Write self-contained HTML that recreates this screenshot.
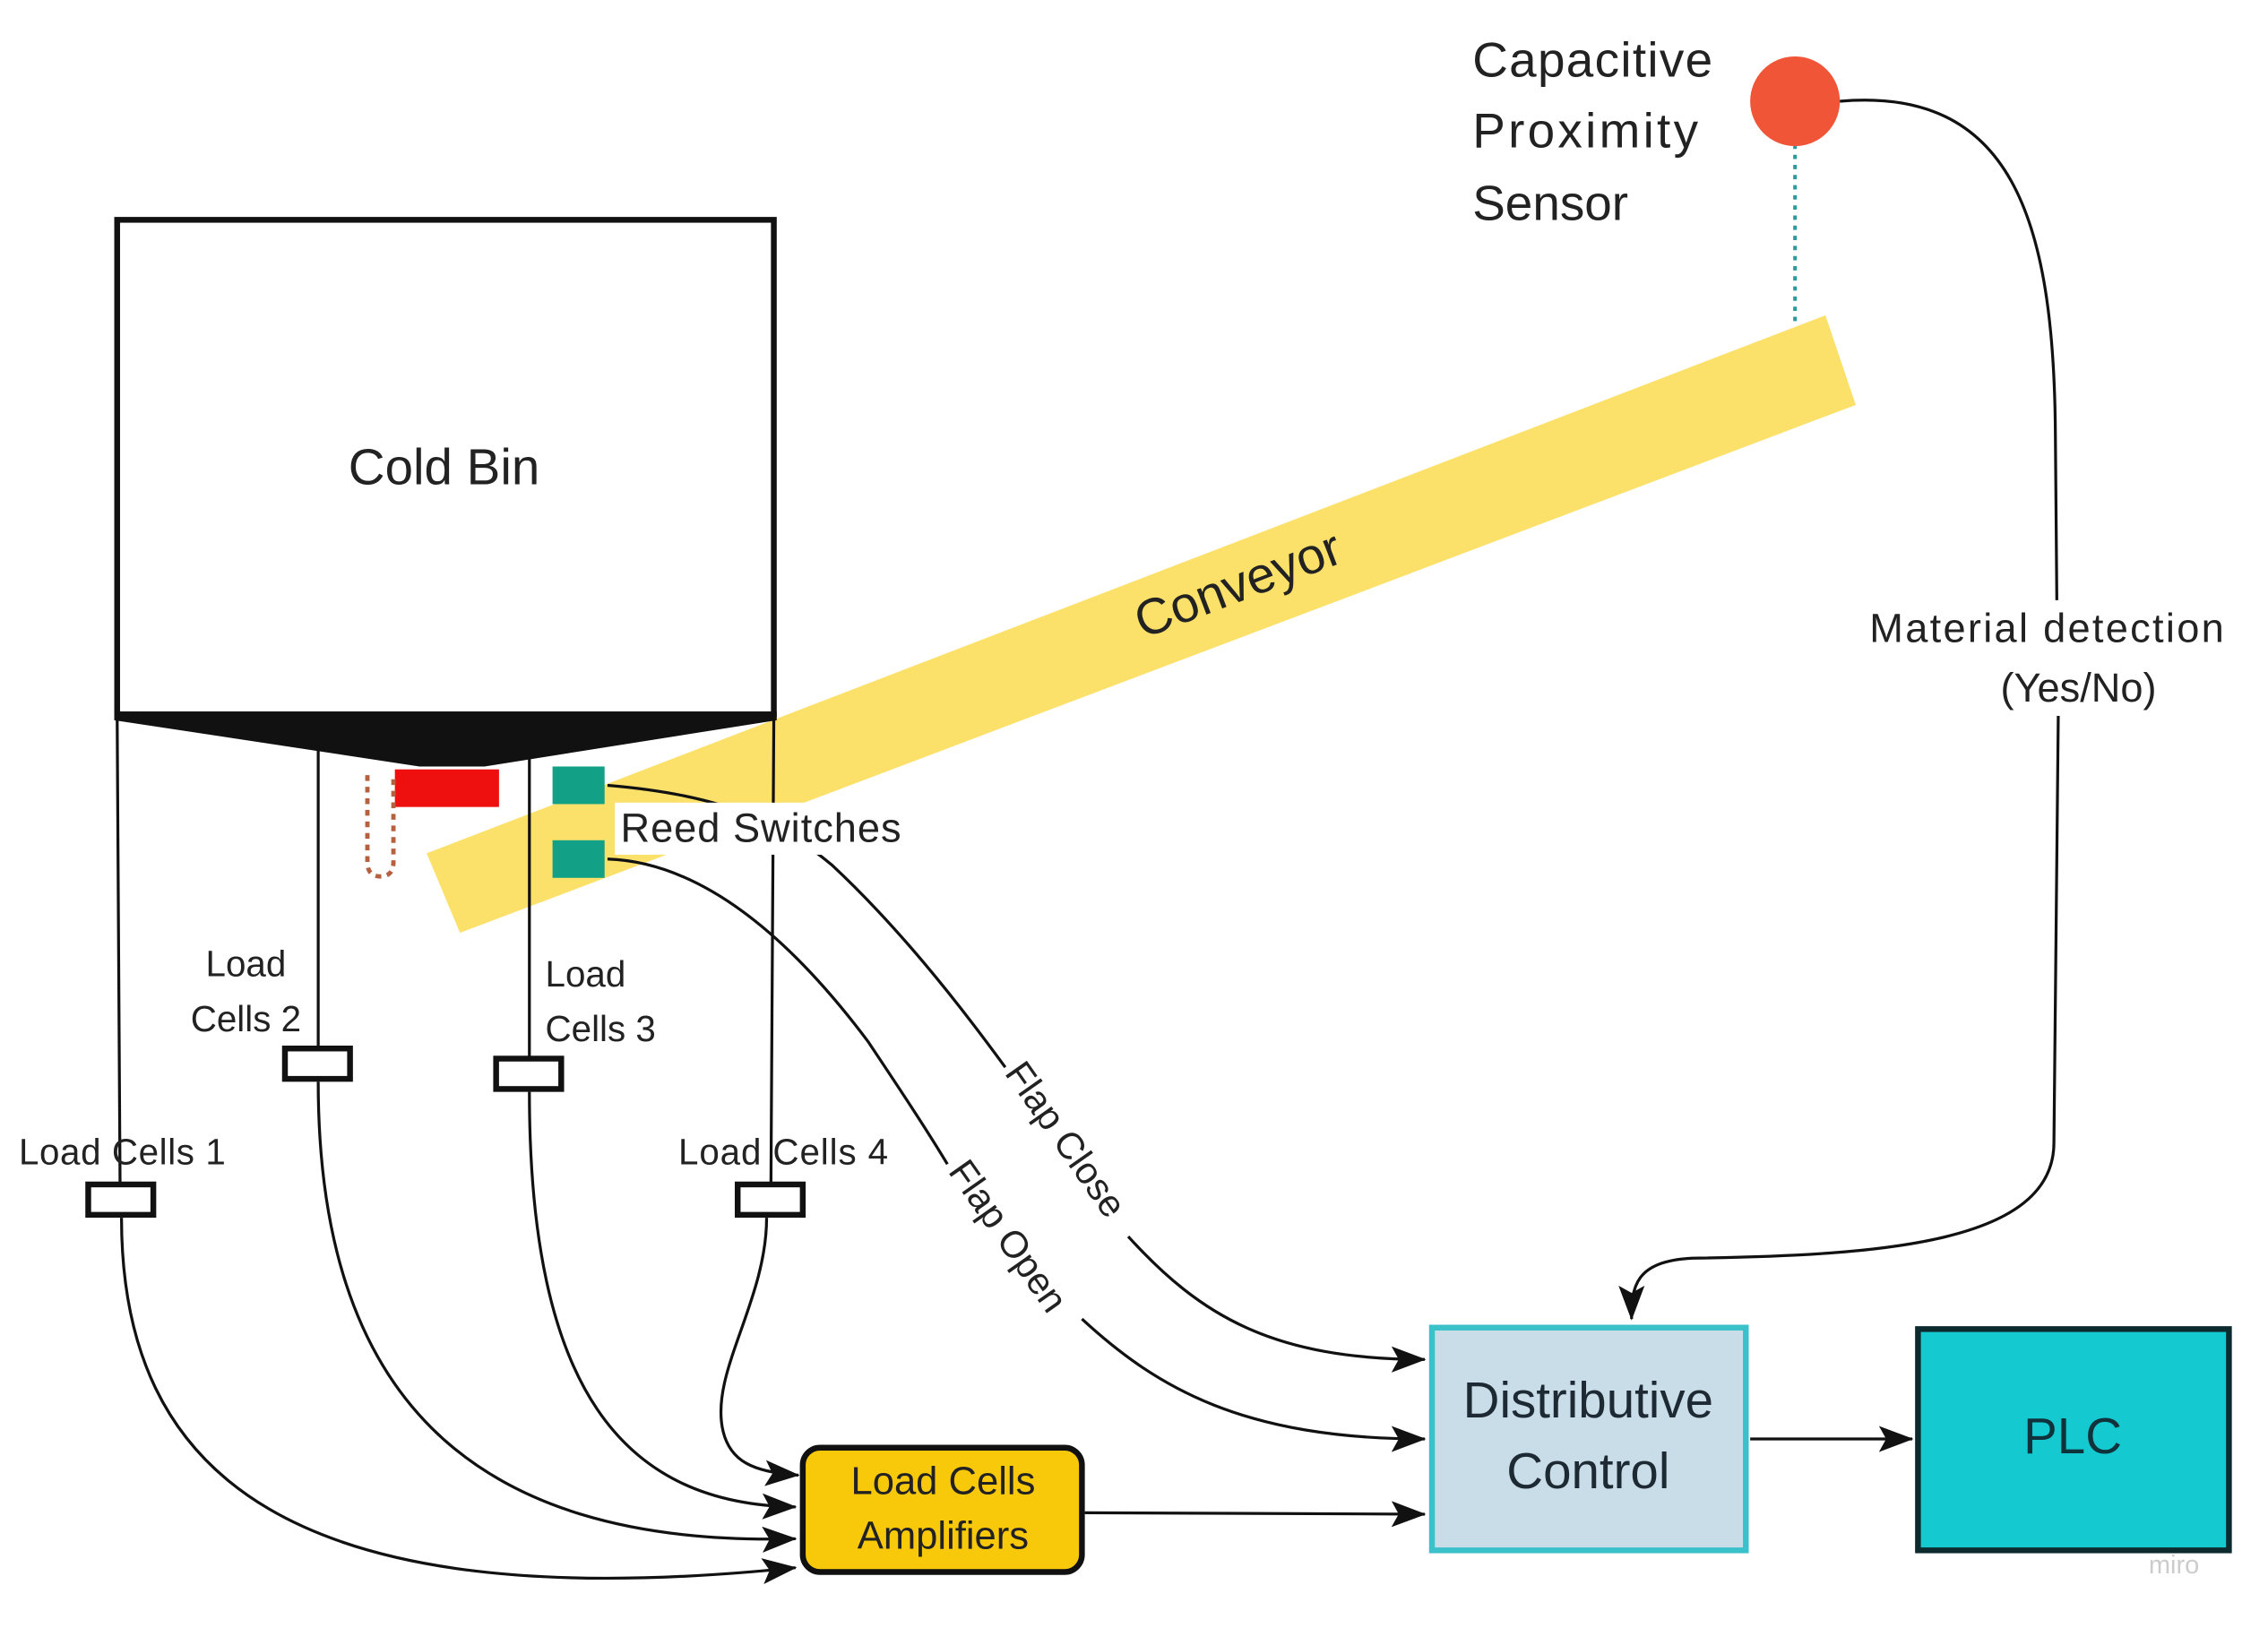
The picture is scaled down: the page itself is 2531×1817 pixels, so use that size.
<!DOCTYPE html>
<html><head><meta charset="utf-8"><style>
html,body{margin:0;padding:0;background:#fff;}
svg{display:block;}
text{font-family:"Liberation Sans",sans-serif;}
</style></head><body>
<svg width="2531" height="1817" viewBox="0 0 1568 1125.7" preserveAspectRatio="none" xmlns="http://www.w3.org/2000/svg">
<defs>
<marker id="ahb" markerWidth="24" markerHeight="18" refX="23" refY="9" orient="auto" markerUnits="userSpaceOnUse"><path d="M0,0 L24,9 L0,18 L5,9 Z" fill="#111"/></marker>
</defs>
<rect width="1568" height="1126" fill="#fff"/>
<polygon points="295,590 1262,218 1283,280 318,645" fill="#fbe06a"/>
<text x="0" y="0" font-size="35" fill="#222" text-anchor="middle" transform="translate(860,415) rotate(-21)">Conveyor</text>
<g stroke="#111" stroke-width="2" fill="none">
<line x1="81" y1="495" x2="83" y2="818"/>
<line x1="220" y1="515" x2="220" y2="724"/>
<line x1="366" y1="520" x2="366" y2="731"/>
<line x1="535" y1="495" x2="533" y2="818"/>
</g>
<rect x="81" y="152" width="454" height="342" fill="#fff" stroke="#111" stroke-width="4"/>
<text x="307" y="335" font-size="35" fill="#222" text-anchor="middle">Cold Bin</text>
<polygon points="79,492 537,492 537,498 335,530 290,530 79,498" fill="#111"/>
<rect x="273" y="532" width="72" height="26" fill="#ee0f0f"/>
<path d="M254,536 L254,596 Q254,606 263,606 Q272,606 272,596 L272,536" fill="none" stroke="#b5603e" stroke-width="3" stroke-dasharray="4,4"/>
<rect x="382" y="530" width="36" height="26" fill="#12a086"/>
<rect x="382" y="581" width="36" height="26" fill="#12a086"/>
<g stroke="#111" stroke-width="2" fill="none">
<path d="M420,543 C480,548 530,560 575,598 C620,640 660,690 695,738"/>
<path d="M780,855 C830,910 880,940 985,940" marker-end="url(#ahb)"/>
<path d="M420,594 C480,596 540,640 600,720 C620,750 640,780 655,805"/>
<path d="M748,912 C800,960 860,995 985,995" marker-end="url(#ahb)"/>
</g>
<rect x="425" y="555" width="205" height="36" fill="#fff"/>
<text x="429" y="582" font-size="28" fill="#222" textLength="194">Reed Switches</text>
<text font-size="26" fill="#222" transform="translate(694,742) rotate(55)">Flap Close</text>
<text font-size="26" fill="#222" transform="translate(655,810) rotate(55)">Flap Open</text>
<g fill="#fff" stroke="#111" stroke-width="4">
<rect x="61" y="819" width="45" height="21"/>
<rect x="197" y="725" width="45" height="21"/>
<rect x="343" y="732" width="45" height="21"/>
<rect x="510" y="819" width="45" height="21"/>
</g>
<g font-size="25" fill="#222">
<text x="13" y="805" textLength="143">Load Cells 1</text>
<text x="170" y="675" text-anchor="middle">Load</text>
<text x="170" y="713" text-anchor="middle">Cells 2</text>
<text x="377" y="682">Load</text>
<text x="377" y="720">Cells 3</text>
<text x="469" y="805" textLength="145">Load Cells 4</text>
</g>
<g stroke="#111" stroke-width="2" fill="none">
<path d="M84,842 C84,1020 200,1120 550,1084" marker-end="url(#ahb)"/>
<path d="M220,748 C220,960 320,1070 550,1064" marker-end="url(#ahb)"/>
<path d="M366,755 C366,960 430,1040 550,1042" marker-end="url(#ahb)"/>
<path d="M530,842 C530,900 490,950 500,990 C505,1010 520,1018 552,1020" marker-end="url(#ahb)"/>
<path d="M750,1046 L985,1047" marker-end="url(#ahb)"/>
<path d="M1210,995 L1322,995" marker-end="url(#ahb)"/>
</g>
<rect x="555" y="1001" width="193" height="86" rx="12" fill="#f8c80b" stroke="#111" stroke-width="4"/>
<text x="652" y="1033" font-size="27" fill="#222" text-anchor="middle">Load Cells</text>
<text x="652" y="1071" font-size="27" fill="#222" text-anchor="middle">Amplifiers</text>
<rect x="990" y="918" width="217" height="154" fill="#c9dde9" stroke="#3bc1ca" stroke-width="4"/>
<text x="1098" y="980" font-size="35" fill="#1e2a33" text-anchor="middle">Distributive</text>
<text x="1098" y="1029" font-size="35" fill="#1e2a33" text-anchor="middle">Control</text>
<rect x="1326" y="919" width="215" height="153" fill="#15c9d0" stroke="#0d2a2e" stroke-width="4"/>
<text x="1433" y="1005" font-size="35" fill="#10323a" text-anchor="middle">PLC</text>
<text x="1503" y="1088" font-size="18" fill="#ccc" text-anchor="middle">miro</text>
<line x1="1241" y1="100" x2="1241" y2="222" stroke="#2a9a9a" stroke-width="2.5" stroke-dasharray="3,4"/>
<circle cx="1241" cy="70" r="31" fill="#f05538"/>
<g font-size="34" fill="#222">
<text x="1018" y="53" textLength="166">Capacitive</text>
<text x="1018" y="102" textLength="156">Proximity</text>
<text x="1018" y="152">Sensor</text>
</g>
<g stroke="#111" stroke-width="2" fill="none">
<path d="M1272,70 C1390,60 1420,150 1421,300 L1422,415"/>
<path d="M1423,495 L1420,790 C1420,860 1300,868 1170,870 C1130,872 1128,890 1128,912" marker-end="url(#ahb)"/>
</g>
<text x="1415" y="444" font-size="28" fill="#222" text-anchor="middle" textLength="245">Material detection</text>
<text x="1437" y="485" font-size="28" fill="#222" text-anchor="middle">(Yes/No)</text>
</svg>
</body></html>
